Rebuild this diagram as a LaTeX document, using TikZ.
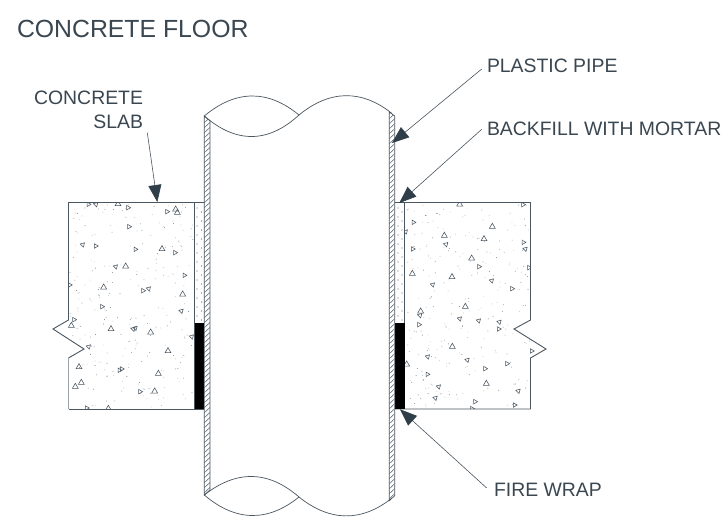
\documentclass[tikz,border=0pt]{standalone}
\usepackage{fontspec}
\setmainfont{Liberation Sans}
\usetikzlibrary{arrows.meta}
\definecolor{ink}{HTML}{3A4650}
\definecolor{tipc}{HTML}{2F3E48}
\definecolor{linec}{HTML}{4A5660}
\tikzset{
  lbl/.style={inner sep=0pt,outer sep=0pt,text=ink,font=\fontsize{19.4}{24}\selectfont},
  ttl/.style={inner sep=0pt,outer sep=0pt,text=ink,font=\fontsize{24.8}{30}\selectfont},
  outline/.style={draw=linec,line width=0.9pt,line join=miter},
  pipeline/.style={draw=linec,line width=0.7pt},
  hatchline/.style={draw=linec,line width=0.5pt},
  leader/.style={draw=linec,line width=0.6pt,-{Triangle[length=17pt,width=13pt,color=tipc]}},
  agg/.style={draw=linec,line width=0.55pt,line join=miter}
}
\begin{document}
\begin{tikzpicture}[x=1pt,y=-1pt]
\useasboundingbox (0,0) rectangle (728,527);
\fill[white] (0,0) rectangle (728,527);
\pgfmathsetseed{4242}

% ---- left slab aggregate
\begin{scope}
\clip (68.5,202.5) -- (194.5,202.5) -- (194.5,409) -- (68.5,409) -- (68.5,358) -- (84,349) -- (53,329) -- (68.5,320) -- cycle;
\foreach \zx/\zy in {145/43,168/43,234/42,264/53,381/65,407/58,412/68,267/110,128/164,167/168,286/178,366/177,405/188,227/230,257/229,433/256,89/285,191/292,309/302,326/296,428/313,186/350,424/363,102/389,94/407,213/417,280/417,286/414,332/427,455/440,146/470,384/483,117/531,238/541,245/537,355/551,124/578,106/590,300/605,344/604,140/654,205/656}{
  \pgfmathsetmacro{\tx}{40+\zx/3}
  \pgfmathsetmacro{\ty}{190+\zy/3}
  \pgfmathsetmacro{\tr}{mod(\zx*7+\zy*13,3)*(-45)}
  \pgfmathsetmacro{\ts}{mod(\zx+\zy,3)==0?3.4:2.6}
  \draw[agg,shift={(\tx,\ty)},rotate=\tr] (270:\ts) -- (30:\ts) -- (150:\ts) -- cycle;
}
\foreach \i in {1,...,130}{
  \pgfmathsetmacro{\tx}{70+rnd*123}
  \pgfmathsetmacro{\ty}{204+rnd*204}
  \fill[linec!75] (\tx,\ty) circle (0.45);
}
\foreach \i in {1,...,110}{
  \pgfmathsetmacro{\tx}{70+rnd*123}
  \pgfmathsetmacro{\ty}{204+rnd*204}
  \fill[linec!25] (\tx,\ty) circle (0.6);
}
\end{scope}

% ---- right slab aggregate
\begin{scope}
\clip (404.5,202.5) -- (530.5,202.5) -- (530.5,320) -- (514,329) -- (546,349) -- (530.5,358) -- (530.5,409) -- (404.5,409) -- cycle;
\foreach \zx/\zy in {224/43,414/44,85/97,322/110,62/125,178/137,297/147,415/157,183/163,421/177,83/177,260/205,282/230,432/233,82/251,201/261,320/272,143/284,381/296,241/350,107/364,105/376,224/386,281/392,343/396,102/404,341/417,202/470,440/483,128/500,247/510,366/521,65/523,300/536,127/553,304/581,161/590,400/603,151/624,270/635,389/645,261/656}{
  \pgfmathsetmacro{\tx}{385+\zx/3}
  \pgfmathsetmacro{\ty}{190+\zy/3}
  \pgfmathsetmacro{\tr}{mod(\zx*7+\zy*13,3)*(-45)}
  \pgfmathsetmacro{\ts}{mod(\zx+\zy,3)==0?3.4:2.6}
  \draw[agg,shift={(\tx,\ty)},rotate=\tr] (270:\ts) -- (30:\ts) -- (150:\ts) -- cycle;
}
\foreach \i in {1,...,130}{
  \pgfmathsetmacro{\tx}{406+rnd*124}
  \pgfmathsetmacro{\ty}{204+rnd*204}
  \fill[linec!75] (\tx,\ty) circle (0.45);
}
\foreach \i in {1,...,110}{
  \pgfmathsetmacro{\tx}{406+rnd*124}
  \pgfmathsetmacro{\ty}{204+rnd*204}
  \fill[linec!25] (\tx,\ty) circle (0.6);
}
\end{scope}

% ---- backfill dots
\foreach \yy in {208,217,...,320}{
  \fill[linec!85] (197,\yy) circle (0.6);
  \fill[linec!85] (201.5,\yy+4) circle (0.6);
  \fill[linec!85] (398,\yy) circle (0.6);
  \fill[linec!85] (402,\yy+4) circle (0.6);
}

% ---- slab outlines
\draw[outline] (204.3,202.5) -- (68.5,202.5) -- (68.5,320) -- (53,329) -- (84,349) -- (68.5,358);
\draw[draw=linec!55,line width=0.9pt] (68.5,358) -- (68.5,409);
\draw[outline] (68.5,409) -- (204.3,409);
\draw[outline] (194.5,202.5) -- (194.5,409);
\draw[outline] (394.7,202.5) -- (530.5,202.5) -- (530.5,320) -- (514,329) -- (546,349) -- (530.5,358) -- (530.5,409) -- (394.7,409);
\draw[outline] (404.5,202.5) -- (404.5,409);

% ---- fire wrap
\fill[black] (194.5,323) rectangle (204.3,409);
\fill[black] (394.7,323) rectangle (404.5,409);

% ---- pipe walls
\begin{scope}
\clip (204.3,116) -- (210,120.7) -- (210,490) -- (204.3,495) -- cycle;
\foreach \yy in {112,117,...,500}{
  \draw[hatchline] (204,\yy+6) -- (210.5,\yy);
}
\end{scope}
\begin{scope}
\clip (389.3,112) -- (394.7,116) -- (394.7,495.7) -- (389.3,500.7) -- cycle;
\foreach \yy in {108,113,...,505}{
  \draw[hatchline] (389,\yy+6) -- (395.5,\yy);
}
\end{scope}
\draw[pipeline] (204.3,116) -- (210,120.7) -- (210,490) -- (204.3,495) -- cycle;
\draw[pipeline] (389.3,112) -- (394.7,116) -- (394.7,495.7) -- (389.3,500.7) -- cycle;

% ---- pipe break curves
\draw[pipeline] (204.3,116) .. controls (236,89.5) and (268,89.5) .. (299,115);
\draw[pipeline] (204.3,116) .. controls (236,143.5) and (268,143.5) .. (299,115);
\draw[pipeline] (299,115) .. controls (330,89.5) and (362,89.5) .. (392,113.5);
\draw[pipeline] (204.3,495) .. controls (236,470) and (268,470) .. (299,497);
\draw[pipeline] (204.3,495) .. controls (236,522) and (268,522) .. (299,497);
\draw[pipeline] (299,497) .. controls (330,522) and (362,522) .. (392,498);

% ---- labels
\node[ttl,anchor=base west] (title) at (17,38) {CONCRETE FLOOR};
\node[lbl,anchor=north east,align=right] (slablbl) at (143,91) {CONCRETE\\SLAB};
\node[lbl,anchor=base west] (pipelbl) at (487,72) {PLASTIC PIPE};
\node[lbl,anchor=base west] (filllbl) at (487,135) {BACKFILL WITH MORTAR};
\node[lbl,anchor=base west] (wraplbl) at (494,496) {FIRE WRAP};

% ---- leaders
\coordinate (slabfrom) at (147.3,132.7);
\coordinate (slabto) at (157.3,202);
\coordinate (pipefrom) at (481.7,69);
\coordinate (pipeto) at (392,143);
\coordinate (fillfrom) at (481.7,129.3);
\coordinate (fillto) at (399.3,203);
\coordinate (wrapfrom) at (486.7,488);
\coordinate (wrapto) at (400,409.3);
\draw[leader] (slabfrom) -- (slabto);
\draw[leader] (pipefrom) -- (pipeto);
\draw[leader] (fillfrom) -- (fillto);
\draw[leader] (wrapfrom) -- (wrapto);
\end{tikzpicture}
\end{document}
